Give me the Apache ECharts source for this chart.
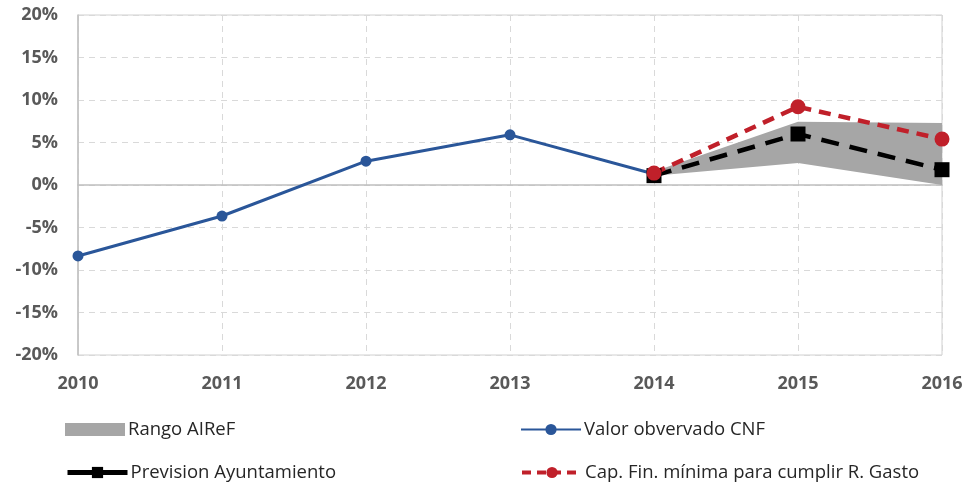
<!DOCTYPE html>
<html>
<head>
<meta charset="utf-8">
<script src="https://cdn.jsdelivr.net/npm/echarts@6/dist/echarts.min.js"></script>
<style>
  html, body { margin: 0; padding: 0; background: #fff; }
  #main { width: 970px; height: 486px; }
</style>
</head>
<body>
<div id="main"></div>
<script>
const years = ['2010', '2011', '2012', '2013', '2014', '2015', '2016'];
const valorCNF = [-8.35, -3.65, 2.8, 5.9, 1.3, null, null];
const prevision = [null, null, null, null, 1.1, 6.0, 1.8];
const capFin = [null, null, null, null, 1.4, 9.2, 5.4];
const rangoMin = [null, null, null, null, 1.1, 2.6, 0.0];
const rangoMax = [null, null, null, null, 1.6, 7.45, 7.3];

const rangoDiff = rangoMax.map((v, i) => v == null ? null : +(v - rangoMin[i]).toFixed(2));

const chart = echarts.init(document.getElementById('main'));
const font = '"Open Sans", Lato, sans-serif';

const legendBase = {
  orient: 'horizontal',
  padding: 0,
  itemWidth: 60,
  itemHeight: 14,
  itemGap: 4,
  textStyle: { fontFamily: font, fontSize: 18.5, color: '#262626', padding: [0, 0, 0, -2] },
  selectedMode: false
};

chart.setOption({
  animation: false,
  grid: {
    left: 78, right: 28, top: 15, bottom: 131,
    show: true, borderColor: '#d0d0d0', borderWidth: 1
  },
  legend: [
    Object.assign({}, legendBase, { left: 65, top: 420, data: [{ name: 'Rango AIReF', icon: 'rect' }], itemHeight: 13 }),
    Object.assign({}, legendBase, { left: 520, top: 420, data: ['Valor obvervado CNF'] }),
    Object.assign({}, legendBase, { left: 65, top: 463,
      data: [{ name: 'Prevision Ayuntamiento', lineStyle: { type: 'solid', width: 5 } }] }),
    Object.assign({}, legendBase, { left: 520, top: 463,
      data: [{ name: 'Cap. Fin. mínima para cumplir R. Gasto', lineStyle: { type: [9, 6], width: 4 } }] })
  ],
  xAxis: {
    type: 'category',
    data: years,
    boundaryGap: false,
    axisLine: { lineStyle: { color: '#bfbfbf', width: 1.5 } },
    axisTick: { show: false },
    axisLabel: { fontFamily: font, fontSize: 18, fontWeight: 'bold', color: '#595959', margin: 20 },
    splitLine: { show: true, lineStyle: { color: '#d9d9d9', type: [6, 5] } }
  },
  yAxis: {
    type: 'value',
    min: -20, max: 20, interval: 5,
    axisLine: { show: true, lineStyle: { color: '#bfbfbf', width: 1.5 } },
    axisTick: { show: false },
    axisLabel: { fontFamily: font, fontSize: 18, fontWeight: 'bold', color: '#595959', margin: 20, formatter: '{value}%' },
    splitLine: { show: true, lineStyle: { color: '#d9d9d9', type: [6, 5] } }
  },
  series: [
    {
      name: 'rangoBase', type: 'line', stack: 'rango', data: rangoMin,
      symbol: 'none', lineStyle: { opacity: 0 }, silent: true
    },
    {
      name: 'Rango AIReF', type: 'line', stack: 'rango', data: rangoDiff,
      symbol: 'none', lineStyle: { opacity: 0 },
      itemStyle: { color: '#a6a6a6' },
      areaStyle: { color: '#a6a6a6', opacity: 1 }
    },
    {
      name: 'Valor obvervado CNF', type: 'line', data: valorCNF,
      symbol: 'circle', symbolSize: 11,
      itemStyle: { color: '#2a5699' },
      lineStyle: { color: '#2a5699', width: 3 }
    },
    {
      name: 'Prevision Ayuntamiento', type: 'line', data: prevision,
      symbol: 'rect', symbolSize: 15,
      itemStyle: { color: '#000' },
      lineStyle: { color: '#000', width: 4.5, type: [18, 11] }
    },
    {
      name: 'Cap. Fin. mínima para cumplir R. Gasto', type: 'line', data: capFin,
      symbol: 'circle', symbolSize: 15,
      itemStyle: { color: '#c0202a' },
      lineStyle: { color: '#c0202a', width: 4.5, type: [12, 8] }
    }
  ]
});
</script>
</body>
</html>
